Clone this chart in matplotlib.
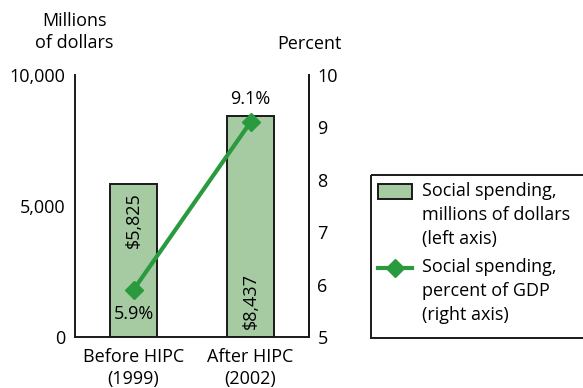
import matplotlib.pyplot as plt
from matplotlib.patches import Rectangle

plt.rcParams['font.family'] = ['Open Sans', 'DejaVu Sans']

# data
periods = ['Before HIPC\n(1999)', 'After HIPC\n(2002)']
spending_musd = [5825, 8437]
spending_pct_gdp = [5.9, 9.1]
left_ticks = [0, 5000, 10000]
left_ticklabels = ['0', '5,000', '10,000']
right_ticks = [5, 6, 7, 8, 9, 10]
legend_labels = ['Social spending,\nmillions of dollars\n(left axis)',
                 'Social spending,\npercent of GDP\n(right axis)']

bar_color = '#a6cba2'
line_color = '#2a9a3f'
edge = '#1a1a1a'
fs = 13
W, H = 583, 388

fig = plt.figure(figsize=(W / 100, H / 100), dpi=100)
ax = fig.add_axes([75 / W, 1 - 337 / H, 234 / W, 262 / H])
x = list(range(len(periods)))

ax.bar(x, spending_musd, width=0.41, color=bar_color, edgecolor=edge, linewidth=1.4, zorder=2)
ax.set_xlim(-0.5, 1.5)
ax.set_ylim(0, 10000)
ax.set_yticks(left_ticks)
ax.set_yticklabels(left_ticklabels)
ax.set_xticks(x)
ax.set_xticklabels(periods, linespacing=1.3)
ax.tick_params(axis='y', length=0, pad=7, labelsize=fs)
ax.tick_params(axis='x', length=0, pad=8, labelsize=fs)
ax.spines['top'].set_visible(False)
for s in ['left', 'bottom', 'right']:
    ax.spines[s].set_linewidth(1.4)
    ax.spines[s].set_color(edge)

# value labels inside bars
ax.text(x[0], spending_musd[0] - 300, '$5,825', rotation=90, ha='center', va='top', fontsize=fs, zorder=3)
ax.text(x[1], 300, '$8,437', rotation=90, ha='center', va='bottom', fontsize=fs, zorder=3)

ax2 = ax.twinx()
ax2.set_ylim(5, 10)
ax2.set_yticks(right_ticks)
ax2.tick_params(axis='y', length=0, pad=6, labelsize=fs)
for s in ['top', 'left', 'bottom']:
    ax2.spines[s].set_visible(False)
ax2.spines['right'].set_linewidth(1.4)
ax2.spines['right'].set_color(edge)
ax2.plot(x, spending_pct_gdp, color=line_color, linewidth=3, marker='D', markersize=9, zorder=4)
ax2.text(x[0], spending_pct_gdp[0] - 0.47, '5.9%', ha='center', va='center', fontsize=fs)
ax2.text(x[1], spending_pct_gdp[1] + 0.45, '9.1%', ha='center', va='center', fontsize=fs)

# axis titles
fig.text(74 / W, 1 - 32 / H, 'Millions\nof dollars', ha='center', va='center', fontsize=fs, linespacing=1.3)
fig.text(309 / W, 1 - 44 / H, 'Percent', ha='center', va='center', fontsize=fs)

# legend box, drawn on a pixel-space overlay
lg = fig.add_axes([0, 0, 1, 1])
lg.set_xlim(0, W)
lg.set_ylim(H, 0)
lg.axis('off')
lg.add_patch(Rectangle((371, 175), 240, 163, fill=False, edgecolor=edge, linewidth=1.4))
lg.add_patch(Rectangle((378, 184), 34, 15, facecolor=bar_color, edgecolor=edge, linewidth=1.4))
lg.plot([378, 412], [268, 268], color=line_color, linewidth=3)
lg.plot([395], [268], color=line_color, marker='D', markersize=9)
lg.text(422, 182, legend_labels[0], ha='left', va='top', fontsize=fs, linespacing=1.42)
lg.text(422, 258, legend_labels[1], ha='left', va='top', fontsize=fs, linespacing=1.42)

plt.savefig('out.png', dpi=100)
